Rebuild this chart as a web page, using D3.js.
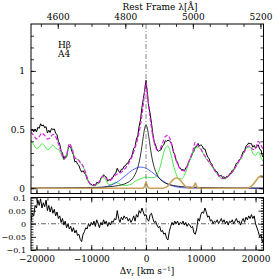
<!DOCTYPE html>
<html>
<head>
<meta charset="utf-8">
<style>
body { margin:0; background:#fff; }
svg text { font-family: "DejaVu Serif", serif; font-size: 9px; fill:#000; }
svg .small text { font-size: 8px; }
</style>
</head>
<body>
<script src="https://d3js.org/d3.v7.min.js"></script>
<script>
// window size
var svgWidth = 279, svgHeight = 279;
// frame edges of the two panels
var left = 31, right = 263.5;
var topY0 = 24, topY1 = 193.5;
var botY0 = 197.5, botY1 = 250;

var lam0 = 4861.3, cLight = 299792.458;

// observed spectrum and residuals, sampled every 250 km/s from -21000
var velObs = d3.range(-21000, 21501, 250);
var obsFlux = [0.49,0.505,0.48,0.505,0.48,0.52,0.51,0.55,0.53,0.54,
  0.515,0.525,0.47,0.495,0.475,0.51,0.50,0.505,0.47,0.455,
  0.40,0.375,0.315,0.30,0.245,0.275,0.265,0.33,0.36,0.35,
  0.31,0.285,0.225,0.23,0.205,0.195,0.16,0.137,0.15,0.13,
  0.115,0.075,0.06,0.035,0.035,0.022,0.035,0.02,0.05,0.047,
  0.045,0.085,0.095,0.115,0.10,0.095,0.06,0.075,0.065,0.09,
  0.095,0.122,0.13,0.17,0.144,0.135,0.162,0.162,0.188,0.192,
  0.212,0.216,0.246,0.255,0.29,0.34,0.354,0.419,0.449,0.53,
  0.583,0.688,0.758,0.83,0.92,0.80,0.70,0.635,0.553,0.463,
  0.394,0.369,0.324,0.315,0.323,0.328,0.359,0.37,0.404,0.40,
  0.41,0.405,0.394,0.365,0.311,0.287,0.238,0.221,0.179,0.174,
  0.154,0.162,0.145,0.175,0.18,0.22,0.245,0.265,0.30,0.315,
  0.352,0.357,0.382,0.359,0.371,0.36,0.335,0.335,0.30,0.265,
  0.255,0.22,0.209,0.174,0.164,0.144,0.139,0.109,0.104,0.109,
  0.089,0.0985,0.083,0.103,0.098,0.123,0.128,0.153,0.153,0.183,
  0.213,0.218,0.243,0.248,0.283,0.313,0.318,0.358,0.368,0.386,
  0.38,0.38,0.35,0.365,0.34,0.355,0.37,0.3325,0.325,0.2725,0.26];
var residual = [0.01,0.04,0.03,0.07,0.06,0.09,0.07,0.095,0.06,0.08,
  0.065,0.09,0.05,0.07,0.045,0.065,0.04,0.055,0.03,0.045,
  0.02,0.03,0.005,0.02,-0.005,0.01,-0.015,0,-0.02,-0.01,
  -0.03,-0.015,-0.035,-0.025,-0.045,-0.04,-0.06,-0.068,-0.04,-0.03,
  -0.015,-0.02,0,-0.01,0.005,-0.005,0.01,-0.01,0.015,0,
  -0.015,0.005,-0.005,0.015,0,0.01,-0.01,0.005,-0.005,0.01,
  0.005,0.02,0.015,0.05,0.02,0.005,0.025,0.015,0.03,0.02,
  0.025,0.01,0.02,0.005,0.015,0.03,0.01,0.035,0.025,0.05,
  0.04,0.06,0.045,0.03,0.035,0.015,0.01,0.035,0.04,0.02,
  0.005,0.01,-0.005,-0.015,-0.01,-0.03,-0.025,-0.04,-0.035,-0.055,
  -0.062,-0.03,-0.01,0.005,-0.005,0.01,0,0.01,-0.005,0.005,
  0,0.01,-0.005,0.005,-0.01,0,-0.005,-0.015,-0.01,-0.035,
  -0.04,-0.02,0.02,0.01,0.035,0.045,0.04,0.06,0.045,0.025,
  0.03,0.01,0.015,0,0.01,0.005,0.015,0,0.01,0.02,
  0.005,0.015,0,0.01,-0.005,0.01,0.005,0.015,0,0.01,
  0.02,0.005,0.01,-0.005,0.01,0.02,0.005,0.025,0.015,0.03,
  0.02,0.035,0.02,0.03,0,-0.015,-0.03,-0.05,-0.04,-0.07,-0.06];

// model curves, sampled every 500 km/s from -21000
var velModel = d3.range(-21000, 21501, 500);
var totalFlux = [0.48,0.45,0.42,0.44,0.47,0.45,0.42,0.43,0.46,0.44,
  0.38,0.31,0.25,0.28,0.38,0.34,0.26,0.25,0.22,0.19,
  0.13,0.06,0.03,0.025,0.035,0.06,0.10,0.10,0.07,0.07,
  0.09,0.115,0.124,0.137,0.158,0.187,0.226,0.275,0.344,0.424,
  0.543,0.713,0.90,0.692,0.513,0.389,0.329,0.333,0.384,0.439,
  0.451,0.404,0.316,0.238,0.184,0.154,0.150,0.19,0.25,0.31,
  0.392,0.362,0.336,0.295,0.255,0.225,0.194,0.154,0.124,0.094,
  0.084,0.083,0.103,0.123,0.153,0.193,0.233,0.273,0.313,0.353,
  0.36,0.33,0.34,0.40,0.365,0.32];
var feFlux = [0.41,0.37,0.34,0.35,0.38,0.36,0.33,0.34,0.37,0.34,
  0.33,0.29,0.245,0.275,0.375,0.335,0.255,0.245,0.215,0.185,
  0.125,0.055,0.025,0.02,0.03,0.05,0.09,0.085,0.04,0.03,
  0.04,0.05,0.04,0.03,0.025,0.025,0.03,0.04,0.06,0.07,
  0.08,0.09,0.095,0.09,0.09,0.09,0.11,0.17,0.26,0.34,
  0.36,0.30,0.20,0.12,0.08,0.08,0.11,0.17,0.24,0.30,
  0.34,0.35,0.33,0.29,0.25,0.22,0.19,0.15,0.12,0.09,
  0.08,0.08,0.10,0.12,0.15,0.19,0.23,0.27,0.31,0.35,
  0.35,0.30,0.28,0.31,0.26,0.22];

// broad Hbeta core
var hbVel = [-21000,-15000,-10000,-8000,-7000,-6000,-5000,-4000,-3500,-3000,
  -2500,-2000,-1500,-1250,-1000,-750,-500,-250,0,
  250,500,750,1000,1250,1500,2000,2500,3000,3500,
  4000,5000,6000,7000,8000,10000,15000,21500];
var hbFlux = [0.001,0.003,0.006,0.009,0.012,0.016,0.023,0.035,0.045,0.059,
  0.081,0.117,0.178,0.223,0.283,0.358,0.44,0.51,0.54,
  0.51,0.44,0.358,0.283,0.223,0.178,0.117,0.081,0.059,0.045,
  0.035,0.023,0.016,0.012,0.009,0.006,0.003,0.001];

// very broad component
var blueVel = [-21000,-9000,-8000,-7500,-7000,-6500,-6000,-5500,-5000,-4500,
  -4000,-3500,-3000,-2500,-2000,-1500,-1000,-500,0,500,
  1000,1500,2000,2500,3000,3500,4000,4500,5000,5500,
  6000,6500,7000,8000,9000,21500];
var blueFlux = [0,0.002,0.007,0.011,0.016,0.024,0.034,0.046,0.061,0.079,
  0.098,0.117,0.137,0.154,0.167,0.176,0.18,0.178,0.17,0.157,
  0.14,0.121,0.102,0.082,0.065,0.049,0.036,0.026,0.018,0.012,
  0.008,0.005,0.003,0.001,0,0];

// narrow lines
var tanVel = [-21000,-700,-350,0,350,700,3000,3500,4000,4500,
  5000,5500,6000,6500,7000,7500,8000,8500,8750,9000,
  9250,9500,10000,18500,19000,19500,20000,20500,21000,21500];
var tanFlux = [0,0,0.008,0.05,0.008,0,0,0.005,0.02,0.05,
  0.075,0.087,0.08,0.055,0.025,0.008,0,0.003,0.015,0.045,
  0.015,0.003,0,0,0.01,0.03,0.06,0.09,0.105,0.10];

// tick values
var velMajor = [-20000,-10000,0,10000,20000];
var velMinor = d3.range(-20000, 21001, 2000);
var lamMajor = [4600,4800,5000,5200];
var lamMinor = d3.range(4550, 5201, 50);
var fluxMajor = [0,0.5,1];
var fluxMinor = d3.range(0, 1.35, 0.1);
var resMajor = [-0.1,-0.05,0,0.05,0.1];
var resMinor = d3.range(-0.1, 0.1001, 0.01);

var svg = d3.select('body').append('svg')
	.attr('width', svgWidth)
	.attr('height', svgHeight)

var x = d3.scaleLinear().domain([-21000, 21450]).range([left, right]);
var xLam = d3.scaleLinear()
	.domain([lam0*(1 - 21000/cLight), lam0*(1 + 21450/cLight)])
	.range([left, right]);
var yTop = d3.scaleLinear().domain([-0.045, 1.4]).range([topY1, topY0]);
var yBot = d3.scaleLinear().domain([-0.1, 0.1]).range([botY1, botY0]);

var defs = svg.append('defs');
defs.append('clipPath').attr('id','clipTop').append('rect')
	.attr('x', left).attr('y', topY0).attr('width', right-left).attr('height', topY1-topY0);
defs.append('clipPath').attr('id','clipBot').append('rect')
	.attr('x', left).attr('y', botY0).attr('width', right-left).attr('height', botY1-botY0);

function minusFmt(d){
	return d < 0 ? '\u2212' + (-d) : '' + d
}

function drawLine(g, xs, ys, yScale, color, width, dash, curve){
	var line = d3.line()
		.x(function(d){ return x(d[0]) })
		.y(function(d){ return yScale(d[1]) })
		.curve(curve || d3.curveLinear)
	g.append('path')
		.datum(d3.zip(xs, ys))
		.attr('d', line)
		.attr('fill','none')
		.attr('stroke', color)
		.attr('stroke-width', width)
		.attr('stroke-dasharray', dash || null)
		.attr('stroke-linejoin','round')
}

function ticks(y0, axis, vals, size, fmt, pad){
	var g = svg.append('g')
	g.call(axis.tickValues(vals).tickSize(-size).tickPadding(pad || 3).tickFormat(fmt || ''))
	g.select('.domain').remove()
	g.selectAll('line').attr('stroke','#000').attr('stroke-width',0.8)
	return g
}

// ---- top panel
var gTop = svg.append('g').attr('clip-path','url(#clipTop)');
drawLine(gTop, velObs, obsFlux, yTop, '#000', 1);
drawLine(gTop, velModel, feFlux, yTop, '#33e633', 0.9, null, d3.curveMonotoneX);
drawLine(gTop, blueVel, blueFlux, yTop, '#2a3cff', 0.8, null, d3.curveMonotoneX);
drawLine(gTop, hbVel, hbFlux, yTop, '#000', 0.8, null, d3.curveMonotoneX);
drawLine(gTop, tanVel, tanFlux, yTop, '#c9a15a', 1.6, null, d3.curveMonotoneX);
drawLine(gTop, velModel, totalFlux, yTop, '#e020e0', 1.2, '4,2', d3.curveMonotoneX);
gTop.append('line')
	.attr('x1', x(0)).attr('x2', x(0)).attr('y1', topY0).attr('y2', topY1)
	.attr('stroke','#555').attr('stroke-width',0.7).attr('stroke-dasharray','5,2,1,2');

// ---- bottom panel
var gBot = svg.append('g').attr('clip-path','url(#clipBot)');
gBot.append('line')
	.attr('x1', left).attr('x2', right).attr('y1', yBot(0)).attr('y2', yBot(0))
	.attr('stroke','#000').attr('stroke-width',0.6).attr('stroke-dasharray','5,2,1,2');
gBot.append('line')
	.attr('x1', x(0)).attr('x2', x(0)).attr('y1', botY0).attr('y2', botY1)
	.attr('stroke','#555').attr('stroke-width',0.7).attr('stroke-dasharray','5,2,1,2');
drawLine(gBot, velObs, residual, yBot, '#000', 1);

// ---- axes
// top panel
ticks(0, d3.axisBottom(x), velMinor, 3).attr('transform','translate(0,'+topY1+')');
ticks(0, d3.axisBottom(x), velMajor, 5).attr('transform','translate(0,'+topY1+')');
ticks(0, d3.axisTop(xLam), lamMinor, 3).attr('transform','translate(0,'+topY0+')');
ticks(0, d3.axisTop(xLam), lamMajor, 5, function(d){ return d }, 4).attr('transform','translate(0,'+topY0+')');
ticks(0, d3.axisLeft(yTop), fluxMinor, 3).attr('transform','translate('+left+',0)');
ticks(0, d3.axisLeft(yTop), fluxMajor, 5, function(d){ return d }, 6).attr('transform','translate('+left+',0)');
ticks(0, d3.axisRight(yTop), fluxMinor, 3).attr('transform','translate('+right+',0)');
ticks(0, d3.axisRight(yTop), fluxMajor, 5).attr('transform','translate('+right+',0)');
// bottom panel
ticks(0, d3.axisTop(x), velMinor, 3).attr('transform','translate(0,'+botY0+')');
ticks(0, d3.axisTop(x), velMajor, 5).attr('transform','translate(0,'+botY0+')');
ticks(0, d3.axisBottom(x), velMinor, 3).attr('transform','translate(0,'+botY1+')');
ticks(0, d3.axisBottom(x), velMajor, 5, minusFmt, 5.5).attr('transform','translate(0,'+botY1+')');
ticks(0, d3.axisLeft(yBot), resMinor, 2.5).attr('transform','translate('+left+',0)');
ticks(0, d3.axisLeft(yBot), resMajor, 5, minusFmt, 5).attr('transform','translate('+left+',0)')
	.attr('class','small');
ticks(0, d3.axisRight(yBot), resMinor, 2.5).attr('transform','translate('+right+',0)');
ticks(0, d3.axisRight(yBot), resMajor, 5).attr('transform','translate('+right+',0)');

// frames
svg.append('rect').attr('x', left).attr('y', topY0).attr('width', right-left).attr('height', topY1-topY0)
	.attr('fill','none').attr('stroke','#000').attr('stroke-width',1);
svg.append('rect').attr('x', left).attr('y', botY0).attr('width', right-left).attr('height', botY1-botY0)
	.attr('fill','none').attr('stroke','#000').attr('stroke-width',1);

// labels
svg.append('text').attr('x', 58).attr('y', 48).text('H\u03B2');
svg.append('text').attr('x', 58).attr('y', 57).text('A4');
svg.append('text').attr('x', 160).attr('y', 10).attr('text-anchor','middle').text('Rest Frame \u03BB[\u00C5]');
var xl = svg.append('text').attr('x', 147).attr('y', 274).attr('text-anchor','middle');
xl.append('tspan').text('\u0394v');
xl.append('tspan').attr('font-size','6px').attr('dy', 2).text('r');
xl.append('tspan').attr('dy', -2).text(' [km s');
xl.append('tspan').attr('font-size','6px').attr('dy', -3).text('\u22121');
xl.append('tspan').attr('dy', 3).text(']');
</script>
</body>
</html>
